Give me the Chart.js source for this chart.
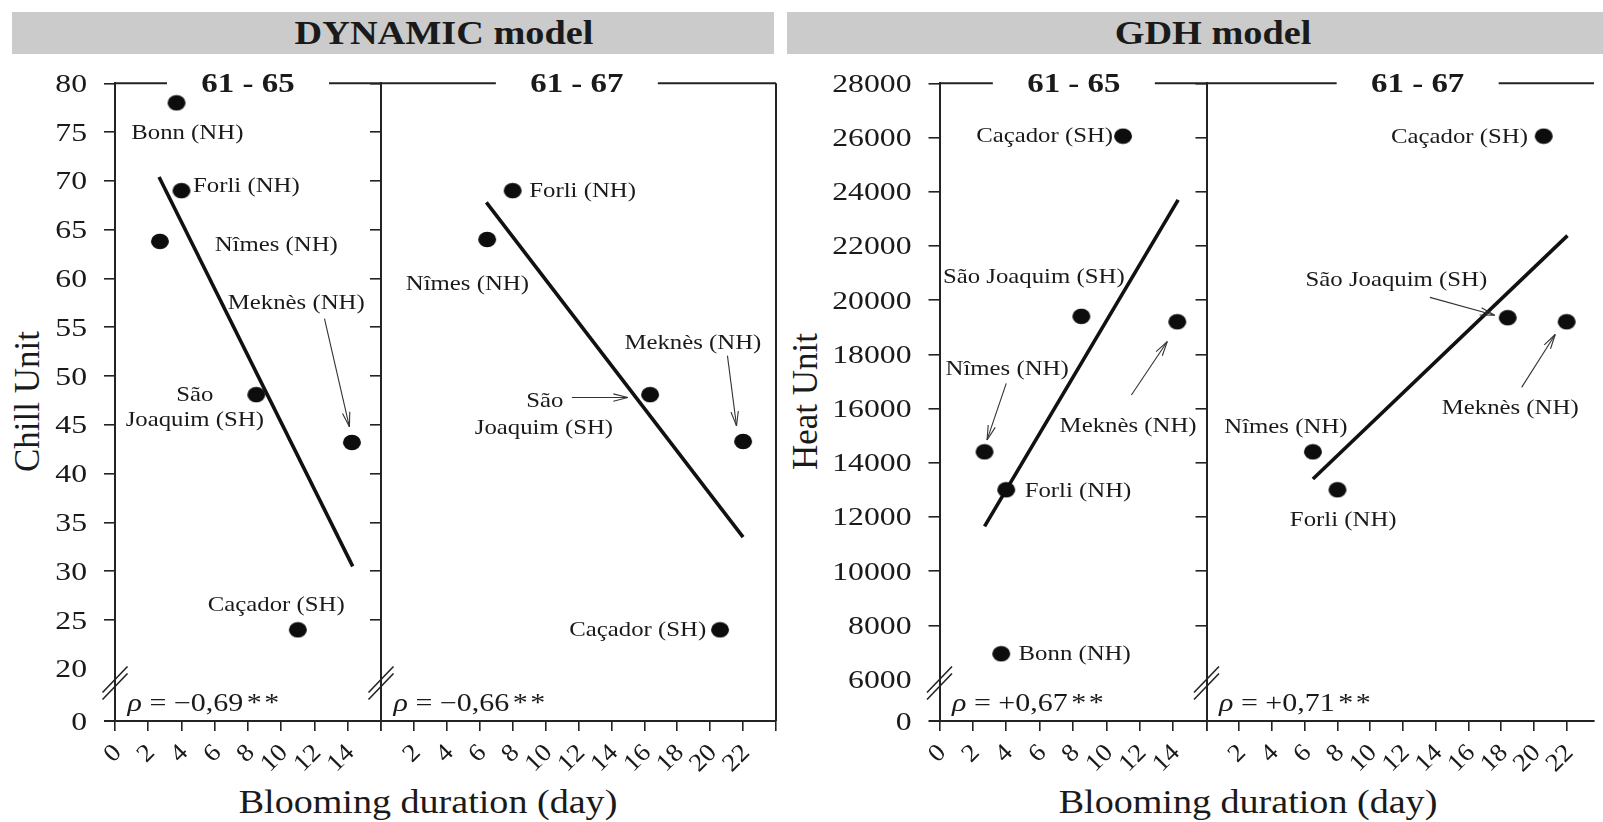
<!DOCTYPE html>
<html>
<head>
<meta charset="utf-8">
<script src="https://cdn.jsdelivr.net/npm/chart.js@4.4.1/dist/chart.umd.min.js"></script>
<style>
  html,body{margin:0;padding:0;background:#fff;}
  body{width:1603px;height:822px;overflow:hidden;position:relative;font-family:"Liberation Serif","Times New Roman",serif;color:#1a1a1a;}
  canvas{position:absolute;left:0;top:0;}
  .band{position:absolute;background:#cbcbcb;}
  .hdr{position:absolute;width:600px;height:33px;font-weight:bold;font-size:33px;line-height:33px;text-align:center;white-space:nowrap;transform:scaleX(1.16);transform-origin:50% 50%;}
  .ytitle{position:absolute;width:300px;height:35px;font-size:35px;line-height:35px;text-align:center;white-space:nowrap;transform:rotate(-90deg);transform-origin:50% 50%;}
  .xtitle{position:absolute;width:600px;height:34px;font-size:34px;line-height:34px;text-align:center;white-space:nowrap;transform:scaleX(1.12);transform-origin:50% 50%;}
</style>
</head>
<body>
<div class="band" style="left:12px;top:12px;width:762px;height:42px;"></div>
<div class="band" style="left:787px;top:12px;width:816px;height:42px;"></div>
<div class="hdr" style="left:143.7px;top:17px;">DYNAMIC model</div>
<div class="hdr" style="left:912.5px;top:17px;">GDH model</div>
<div class="ytitle" style="left:-123.5px;top:384.3px;">Chill Unit</div>
<div class="ytitle" style="left:654.5px;top:384.2px;">Heat Unit</div>
<div class="xtitle" style="left:127.5px;top:785.2px;">Blooming duration (day)</div>
<div class="xtitle" style="left:947.5px;top:785.2px;">Blooming duration (day)</div>
<canvas id="c1" width="1603" height="822"></canvas>
<canvas id="c2" width="1603" height="822"></canvas>
<canvas id="c3" width="1603" height="822"></canvas>
<canvas id="c4" width="1603" height="822"></canvas>
<script>
// ---------------- DATA ----------------
// tick labels
const dynYTicks = [20, 25, 30, 35, 40, 45, 50, 55, 60, 65, 70, 75, 80];
const gdhYTicks = [6000, 8000, 10000, 12000, 14000, 16000, 18000, 20000, 22000, 24000, 26000, 28000];
const xTicks6165 = [0, 2, 4, 6, 8, 10, 12, 14, 16];
const xLabels6165 = [0, 2, 4, 6, 8, 10, 12, 14];
const xTicks6167 = [0, 2, 4, 6, 8, 10, 12, 14, 16, 18, 20, 22, 24];
const xLabels6167 = [2, 4, 6, 8, 10, 12, 14, 16, 18, 20, 22];

// period 61 - 65 (six sites)
const cities6165 = ['Bonn (NH)', 'Forli (NH)', 'Nîmes (NH)', 'São Joaquim (SH)', 'Meknès (NH)', 'Caçador (SH)'];
const days6165 = [3.7, 4.0, 2.7, 8.5, 14.25, 11.0];
const chill6165 = [78.0, 69.0, 63.8, 48.1, 43.2, 24.0];
const heat6165 = [6950, 13000, 14400, 19400, 19200, 26050];

// period 61 - 67 (five sites)
const cities6167 = ['Forli (NH)', 'Nîmes (NH)', 'São Joaquim (SH)', 'Meknès (NH)', 'Caçador (SH)'];
const days6167Dyn = [8.0, 6.45, 16.35, 22.0, 20.6];
const days6167Gdh = [8.0, 6.5, 18.4, 22.0, 20.6];
const chill6167 = [69.0, 64.0, 48.1, 43.3, 24.0];
const heat6167 = [13000, 14400, 19350, 19200, 26050];

// regression lines (end points)
const fitDaysDyn6165 = [2.65, 14.3];
const fitChill6165 = [70.4, 30.5];
const fitDaysDyn6167 = [6.4, 22.0];
const fitChill6167 = [67.8, 33.5];
const fitDaysGdh6165 = [2.7, 14.3];
const fitHeat6165 = [11650, 23700];
const fitDaysGdh6167 = [6.5, 22.05];
const fitHeat6167 = [13400, 22380];

// correlation labels
const rhoValues = ['\u22120,69', '\u22120,66', '+0,67', '+0,71'];

// point annotations [text, day, value] and arrows [day1, value1, day2, value2]
const notesDyn6165 = [['Bonn (NH)', 4.35, 75.0], ['Forli (NH)', 7.9, 69.6], ['Nîmes (NH)', 9.7, 63.5],
  ['Meknès (NH)', 10.9, 57.6], ['São', 4.8, 48.2], ['Joaquim (SH)', 4.8, 45.6], ['Caçador (SH)', 9.7, 26.6]];
const arrowsDyn6165 = [[12.6, 55.9, 14.1, 44.8]];
const notesDyn6167 = [['Forli (NH)', 12.25, 69.1], ['Nîmes (NH)', 5.25, 59.5], ['Meknès (NH)', 18.95, 53.5],
  ['São', 9.95, 47.6], ['Joaquim (SH)', 9.9, 44.8], ['Caçador (SH)', 15.6, 24.1]];
const arrowsDyn6167 = [[21.05, 52.1, 21.6, 44.9], [11.6, 47.8, 15.0, 47.8]];
const notesGdh6165 = [['Caçador (SH)', 6.3, 26100], ['São Joaquim (SH)', 5.65, 20900], ['Nîmes (NH)', 4.05, 17480],
  ['Meknès (NH)', 11.3, 15400], ['Forli (NH)', 8.3, 13000], ['Bonn (NH)', 8.1, 6970]];
const arrowsGdh6165 = [[4.0, 16930, 2.85, 14840], [11.5, 16500, 13.65, 18470]];
const notesGdh6167 = [['Caçador (SH)', 15.45, 26050], ['São Joaquim (SH)', 11.6, 20790], ['Meknès (NH)', 18.55, 16060],
  ['Nîmes (NH)', 4.85, 15370], ['Forli (NH)', 8.35, 11930]];
const arrowsGdh6167 = [[13.65, 20100, 17.6, 19440], [19.25, 16780, 21.3, 18730]];

// ---------------- DRAWING ----------------
const AX = '#232323', TXT = '#1a1a1a', FONT = '"Liberation Serif", "Times New Roman", serif';

const dot = document.createElement('canvas');
dot.width = 20; dot.height = 17;
(function () {
  const g = dot.getContext('2d');
  g.fillStyle = '#0d0d0d';
  g.beginPath(); g.ellipse(10, 8.5, 9, 7.7, 0, 0, Math.PI * 2); g.fill();
})();

function seg(ctx, x1, y1, x2, y2) { ctx.beginPath(); ctx.moveTo(x1, y1); ctx.lineTo(x2, y2); ctx.stroke(); }
function txt(ctx, s, x, y, o) {
  ctx.save();
  ctx.translate(x, y);
  if (o.rot) ctx.rotate(o.rot);
  ctx.scale(o.sx || 1, 1);
  ctx.font = (o.italic ? 'italic ' : '') + (o.bold ? 'bold ' : '') + o.size + 'px ' + FONT;
  ctx.textAlign = o.align || 'center';
  ctx.textBaseline = o.baseline || 'alphabetic';
  ctx.fillStyle = TXT;
  ctx.fillText(s, 0, 0);
  ctx.restore();
}
function arrow(ctx, x1, y1, x2, y2) {
  seg(ctx, x1, y1, x2, y2);
  const a = Math.atan2(y2 - y1, x2 - x1), L = 15, w = 0.25;
  seg(ctx, x2, y2, x2 - L * Math.cos(a - w), y2 - L * Math.sin(a - w));
  seg(ctx, x2, y2, x2 - L * Math.cos(a + w), y2 - L * Math.sin(a + w));
}

const deco = {
  id: 'deco',
  afterDatasetsDraw(chart, args, opts) {
    const p = opts.panel, ctx = chart.ctx, a = chart.chartArea;
    const xs = chart.scales.x, ys = chart.scales.y;
    ctx.save();
    ctx.strokeStyle = AX; ctx.lineWidth = 2; ctx.lineCap = 'butt';
    // frame: top line interrupted by the period title
    const tc = xs.getPixelForValue(p.titleAt);
    seg(ctx, a.left, a.top, tc - 81, a.top);
    seg(ctx, tc + 81, a.top, a.right, a.top);
    if (p.rightBorder) seg(ctx, a.right, a.top, a.right, a.bottom);
    if (p.showYLabels) seg(ctx, a.left - 11, a.bottom, a.left, a.bottom);
    txt(ctx, p.title, tc, a.top + 9, {size: 27, bold: true, sx: 1.22});
    // axis break marks
    const by = ys.getPixelForValue(p.breakAt);
    ctx.lineWidth = 1.6;
    seg(ctx, a.left - 12.5, by - 3.5 + 13, a.left + 12.5, by - 3.5 - 13);
    seg(ctx, a.left - 12.5, by + 3.5 + 13, a.left + 12.5, by + 3.5 - 13);
    // y tick labels
    if (p.showYLabels) {
      p.yTicks.forEach(v => txt(ctx, String(v), a.left - 28, ys.getPixelForValue(v) + 8.5, {size: 25, sx: 1.27, align: 'right'}));
      txt(ctx, '0', a.left - 28, ys.getPixelForValue(p.yMin) + 8.5, {size: 25, sx: 1.27, align: 'right'});
    }
    // x tick labels (rotated)
    p.xLabels.forEach(v => {
      const px = xs.getPixelForValue(v);
      txt(ctx, String(v), px + 3, a.bottom + 28, {size: 25, sx: 1.08, align: 'right', baseline: 'middle', rot: -Math.PI / 4});
    });
    // correlation
    ctx.save();
    ctx.translate(a.left + 12.5, a.bottom - 10);
    ctx.scale(1.2, 1);
    ctx.fillStyle = TXT; ctx.textAlign = 'left'; ctx.textBaseline = 'alphabetic';
    ctx.font = 'italic 25px ' + FONT;
    ctx.fillText('\u03C1', 0, 0);
    let cx = ctx.measureText('\u03C1').width;
    ctx.font = '25px ' + FONT;
    const body = ' = ' + p.rho;
    ctx.fillText(body, cx, 0);
    cx += ctx.measureText(body).width + 3;
    ctx.fillText('*', cx, 0);
    cx += ctx.measureText('*').width + 2;
    ctx.fillText('*', cx, 0);
    ctx.restore();
    // annotations
    p.notes.forEach(n => txt(ctx, n[0], xs.getPixelForValue(n[1]), ys.getPixelForValue(n[2]) + 7, {size: 21, sx: 1.18}));
    ctx.strokeStyle = '#333'; ctx.lineWidth = 1.1;
    p.arrows.forEach(r => arrow(ctx, xs.getPixelForValue(r[0]), ys.getPixelForValue(r[1]), xs.getPixelForValue(r[2]), ys.getPixelForValue(r[3])));
    ctx.restore();
  }
};

function zeroFit(vertical) {
  return function (s) {
    if (vertical) s.width = 0; else s.height = 0;
    s.paddingLeft = 0; s.paddingRight = 0; s.paddingTop = 0; s.paddingBottom = 0;
  };
}

function makePanel(p) {
  const hidden = [p.yMin, p.yTicks[0]];
  const yTickVals = [p.yMin].concat(p.yTicks);
  new Chart(document.getElementById(p.id), {
    type: 'scatter',
    data: {
      datasets: [
        {
          type: 'line',
          data: p.fitX.map((d, i) => ({x: d, y: p.fitY[i]})),
          borderColor: '#111', borderWidth: 3.6, pointRadius: 0, showLine: true, fill: false,
          borderCapStyle: 'butt', clip: false, order: 2
        },
        {
          data: p.days.map((d, i) => ({x: d, y: p.vals[i]})),
          pointStyle: dot, pointRadius: 9, backgroundColor: '#0d0d0d', borderWidth: 0,
          clip: false, order: 1
        }
      ]
    },
    options: {
      responsive: false, animation: false, devicePixelRatio: 1,
      events: [],
      layout: {padding: {left: p.left, right: 1603 - p.right, top: 83.3, bottom: 101}},
      plugins: {legend: {display: false}, tooltip: {enabled: false}, deco: {panel: p}},
      scales: {
        x: {
          type: 'linear', min: 0, max: p.xMax, bounds: 'data',
          afterBuildTicks: s => { s.ticks = p.xTicks.map(v => ({value: v})); },
          afterFit: zeroFit(false),
          ticks: {display: false},
          grid: {drawOnChartArea: false, drawTicks: true, tickLength: 10, color: AX, lineWidth: 1.6},
          border: {display: true, color: AX, width: 2}
        },
        y: {
          type: 'linear', min: p.yMin, max: p.yMax, bounds: 'data',
          afterBuildTicks: s => { s.ticks = yTickVals.map(v => ({value: v})); },
          afterFit: zeroFit(true),
          ticks: {display: false},
          grid: {
            drawOnChartArea: false, drawTicks: true, tickLength: 11, lineWidth: 1.6,
            color: c => (c.tick && hidden.indexOf(c.tick.value) >= 0) ? 'rgba(0,0,0,0)' : AX
          },
          border: {display: true, color: AX, width: 2}
        }
      }
    },
    plugins: [deco]
  });
}

const DYN_MIN = 14.66, GDH_MIN = 4469;
makePanel({id: 'c1', left: 115, right: 381, xMax: 16, xTicks: xTicks6165, xLabels: xLabels6165,
  yMin: DYN_MIN, yMax: 80, yTicks: dynYTicks, showYLabels: true, breakAt: 18.56,
  days: days6165, vals: chill6165, fitX: fitDaysDyn6165, fitY: fitChill6165,
  title: '61 - 65', titleAt: 8, rho: rhoValues[0], notes: notesDyn6165, arrows: arrowsDyn6165, rightBorder: false});
makePanel({id: 'c2', left: 381, right: 776, xMax: 24, xTicks: xTicks6167, xLabels: xLabels6167,
  yMin: DYN_MIN, yMax: 80, yTicks: dynYTicks, showYLabels: false, breakAt: 18.56,
  days: days6167Dyn, vals: chill6167, fitX: fitDaysDyn6167, fitY: fitChill6167,
  title: '61 - 67', titleAt: 11.9, rho: rhoValues[1], notes: notesDyn6167, arrows: arrowsDyn6167, rightBorder: true});
makePanel({id: 'c3', left: 939.5, right: 1206.5, xMax: 16, xTicks: xTicks6165, xLabels: xLabels6165,
  yMin: GDH_MIN, yMax: 28000, yTicks: gdhYTicks, showYLabels: true, breakAt: 5871,
  days: days6165, vals: heat6165, fitX: fitDaysGdh6165, fitY: fitHeat6165,
  title: '61 - 65', titleAt: 8.05, rho: rhoValues[2], notes: notesGdh6165, arrows: arrowsGdh6165, rightBorder: false});
makePanel({id: 'c4', left: 1206.5, right: 1603, xMax: 23.67, xTicks: xTicks6167.filter(v => v <= 23.67), xLabels: xLabels6167,
  yMin: GDH_MIN, yMax: 28000, yTicks: gdhYTicks, showYLabels: false, breakAt: 5871,
  days: days6167Gdh, vals: heat6167, fitX: fitDaysGdh6167, fitY: fitHeat6167,
  title: '61 - 67', titleAt: 12.9, rho: rhoValues[3], notes: notesGdh6167, arrows: arrowsGdh6167, rightBorder: false});
</script>
</body>
</html>
